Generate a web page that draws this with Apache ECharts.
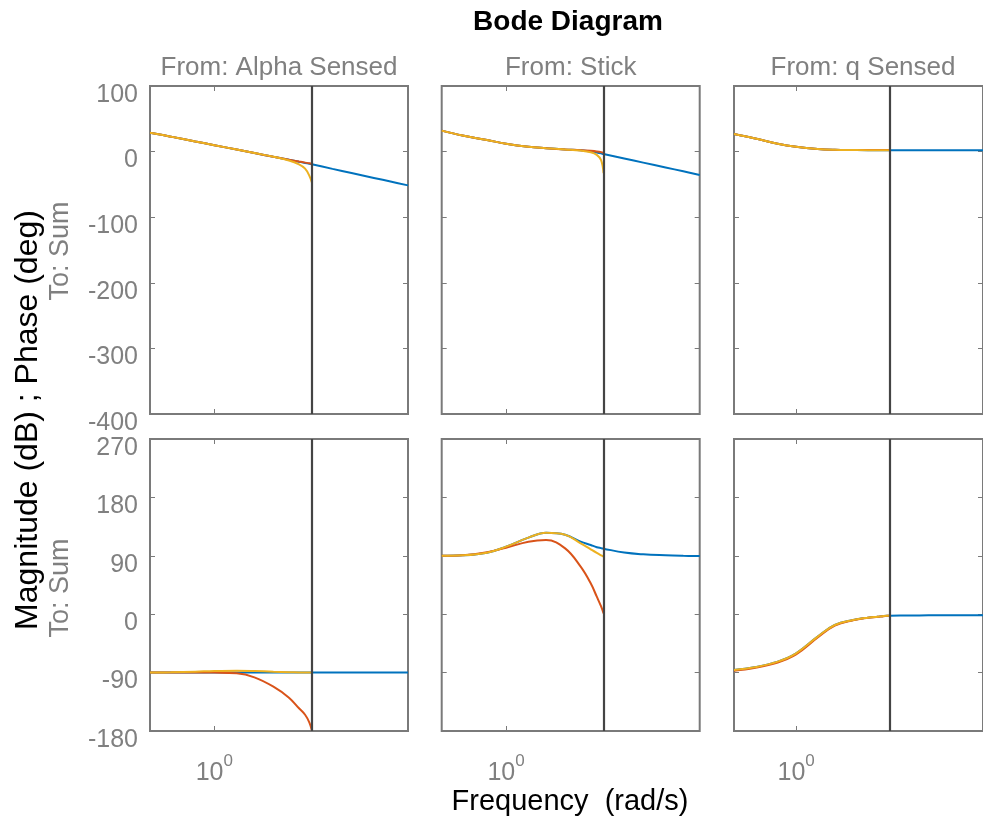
<!DOCTYPE html>
<html>
<head>
<meta charset="utf-8">
<script src="https://cdn.jsdelivr.net/npm/echarts@6/dist/echarts.min.js"></script>
<style>
  html, body { margin: 0; padding: 0; background: #fff; }
  #chart { width: 983px; height: 820px; }
</style>
</head>
<body>
<div id="chart"></div>
<script>
// frequencies (rad/s), discrete models stop at Nyquist
var freqD = [0.47, 0.6, 0.8, 1.0, 1.3, 1.6, 2.0, 2.4, 2.7, 2.9, 3.05, 3.14];
var freqC = freqD.concat([4, 5, 6.5, 8, 9.7]);
var nyquist = 3.1416;
var fMin = 0.47, fMax = 9.7;

var inputNames = ["From: Alpha Sensed", "From: Stick", "From: q Sensed"];
var outputName = "To: Sum";

// magnitude (dB)
var magAlphaC  = [28.8, 22.8, 15.4, 9.8, 3.1, -2.2, -7.9, -12.5, -15.5, -17.3, -18.6, -19.4, -26.3, -32.6, -40.1, -46, -51.5];
var magAlphaD1 = [28.8, 22.8, 15.4, 9.8, 3.1, -2.2, -7.9, -12.4, -15.2, -16.8, -17.8, -19];
var magAlphaD2 = [28.8, 22.8, 15.4, 9.8, 3.1, -2.2, -7.9, -13.5, -19.5, -26, -37, -47];

var magStickC  = [32, 24.5, 17.7, 12, 7.3, 5.2, 3.3, 2.0, 0.3, -1.3, -2.7, -3.7, -10.5, -16.8, -24.2, -30, -35.7];
var magStickD1 = [32, 24.5, 17.7, 12, 7.3, 5.2, 3.3, 2.2, 1.2, 0.3, -0.8, -2];
var magStickD2 = [32, 24.5, 17.7, 12, 7.3, 5.2, 3.3, 1.5, -1, -5, -13, -33];

var magQC  = [26.8, 20.5, 12, 7.3, 4, 2.8, 2.4, 2.2, 2.2, 2.2, 2.2, 2.2, 2.0, 2.0, 2.0, 2.0, 2.0];
var magQD1 = [26.8, 20.5, 12, 7.3, 4, 2.8, 2.4, 2.3, 2.3, 2.3, 2.3, 2.3];
var magQD2 = [26.8, 20.5, 12, 7.3, 4, 2.8, 2.4, 2.2, 2.2, 2.2, 2.2, 2.2];

// phase (deg)
var phAlphaC  = [-90, -90, -90, -90, -90, -90, -90, -90, -90, -90, -90, -90, -90, -90, -90, -90, -90];
var phAlphaD1 = [-90, -90, -89.8, -90, -91.1, -97.3, -111.7, -128.6, -145, -155, -167, -179];
var phAlphaD2 = [-90, -89.5, -88.5, -87.5, -87, -87.5, -88.5, -89.3, -89.7, -90, -90, -90];

var phStickC  = [90, 90.7, 94.8, 104.1, 118, 125.5, 122.5, 111.8, 106.6, 103.3, 101.8, 101, 95, 92.3, 90.8, 90, 89.5];
var phStickD1 = [90, 90.8, 95.5, 102.5, 111.8, 114.4, 101.5, 73.3, 47.6, 27, 12, 1.3];
var phStickD2 = [90, 90.7, 94.8, 104.1, 118, 125.5, 122.5, 109.2, 100, 94.5, 90.8, 88.7];

var phQC  = [-86, -81.9, -73.1, -60.3, -34.6, -16.6, -8.9, -5.3, -3.8, -2.8, -2.4, -2.3, -2, -1.8, -1.7, -1.6, -1.5];
var phQD1 = [-87, -83, -74.5, -62, -36, -17.5, -9.2, -5.5, -4, -3, -2.5, -2.3];
var phQD2 = [-86, -81.9, -73.1, -60.3, -34.6, -16.6, -8.9, -5.3, -3.8, -2.8, -2.4, -2.3];

var panels = [
  [[magAlphaC, magAlphaD1, magAlphaD2], [magStickC, magStickD1, magStickD2], [magQC, magQD1, magQD2]],
  [[phAlphaC, phAlphaD1, phAlphaD2], [phStickC, phStickD1, phStickD2], [phQC, phQD1, phQD2]]
];

var colors = ["#0072BD", "#D95319", "#EDB120"];
var gray = "#808080";
var frame = "#7a7a7a";
var font = "Liberation Sans";

var colLeft = [150, 441.7, 734];
var panelW = 258;
var rows = [
  { top: 86, height: 328, min: -400, max: 100, interval: 100 },
  { top: 439, height: 292, min: -180, max: 270, interval: 90 }
];

function pairs(freq, vals) {
  return vals.map(function (v, i) { return [freq[i], v]; });
}

var grids = [], xAxes = [], yAxes = [], series = [];

rows.forEach(function (r, ri) {
  colLeft.forEach(function (left, ci) {
    var g = grids.length;
    grids.push({
      left: left, top: r.top, width: panelW, height: r.height,
      show: true, borderColor: frame, borderWidth: 2
    });

    var tick = { inside: true, length: 5, lineStyle: { color: frame, width: 1 } };

    xAxes.push({
      type: "log", logBase: 10, min: fMin, max: fMax, gridIndex: g, position: "bottom",
      splitLine: { show: false }, axisLine: { show: false, onZero: false }, axisTick: tick,
      axisLabel: ri === 1 ? {
        show: true, margin: 22, showMinLabel: false, showMaxLabel: false,
        formatter: function (v) { return Math.abs(v - 1) < 1e-6 ? "{b|10}{s|0}" : ""; },
        rich: {
          b: { fontSize: 25, fontFamily: font, color: gray, padding: [8, 0, 0, 0] },
          s: { fontSize: 17, fontFamily: font, color: gray, verticalAlign: "top" }
        }
      } : { show: false }
    });
    xAxes.push({
      type: "log", logBase: 10, min: fMin, max: fMax, gridIndex: g, position: "top",
      splitLine: { show: false }, axisLine: { show: false, onZero: false }, axisTick: tick,
      axisLabel: { show: false }
    });

    yAxes.push({
      type: "value", min: r.min, max: r.max, interval: r.interval, gridIndex: g, position: "left",
      splitLine: { show: false }, axisLine: { show: false, onZero: false }, axisTick: tick,
      axisLabel: ci === 0 ? {
        show: true, margin: 12,
        formatter: function (v) { return "{v|" + v + "}"; },
        rich: { v: { color: gray, fontSize: 25, fontFamily: font, padding: [18, 0, 0, 0] } }
      } : { show: false }
    });
    yAxes.push({
      type: "value", min: r.min, max: r.max, interval: r.interval, gridIndex: g, position: "right",
      splitLine: { show: false }, axisLine: { show: false, onZero: false }, axisTick: tick,
      axisLabel: { show: false }
    });

    var sets = panels[ri][ci];
    sets.forEach(function (vals, si) {
      var s = {
        type: "line",
        xAxisIndex: g * 2,
        yAxisIndex: g * 2,
        data: pairs(si === 0 ? freqC : freqD, vals),
        showSymbol: false,
        smooth: 0.4,
        lineStyle: { color: colors[si], width: 2 },
        itemStyle: { color: colors[si] },
        z: 2 + si
      };
      if (si === 0) {
        s.markLine = {
          silent: true,
          symbol: ["none", "none"],
          label: { show: false },
          lineStyle: { color: "#444444", width: 2.2, type: "solid" },
          data: [{ xAxis: nyquist }]
        };
      }
      series.push(s);
    });
  });
});

var texts = [
  { type: "text", x: 568, y: 22, style: { text: "Bode Diagram", textAlign: "center", textVerticalAlign: "middle", font: "bold 28px 'Liberation Sans'", fill: "#000" } },
  { type: "text", x: 570, y: 802, style: { text: "Frequency  (rad/s)", textAlign: "center", textVerticalAlign: "middle", font: "29px 'Liberation Sans'", fill: "#000" } },
  { type: "text", x: 28, y: 420, rotation: Math.PI / 2, style: { text: "Magnitude (dB) ; Phase (deg)", textAlign: "center", textVerticalAlign: "middle", font: "32px 'Liberation Sans'", fill: "#000" } },
  { type: "text", x: 61, y: 251, rotation: Math.PI / 2, style: { text: outputName, textAlign: "center", textVerticalAlign: "middle", font: "27px 'Liberation Sans'", fill: gray } },
  { type: "text", x: 61, y: 588, rotation: Math.PI / 2, style: { text: outputName, textAlign: "center", textVerticalAlign: "middle", font: "27px 'Liberation Sans'", fill: gray } }
];
inputNames.forEach(function (name, i) {
  texts.push({ type: "text", x: colLeft[i] + panelW / 2, y: 68, style: { text: name, textAlign: "center", textVerticalAlign: "middle", font: "26px 'Liberation Sans'", fill: gray } });
});

var chart = echarts.init(document.getElementById("chart"));
var option = {
  animation: false,
  backgroundColor: "#fff",
  grid: grids,
  xAxis: xAxes,
  yAxis: yAxes,
  series: series,
  graphic: texts
};
chart.setOption(option);
</script>
</body>
</html>
